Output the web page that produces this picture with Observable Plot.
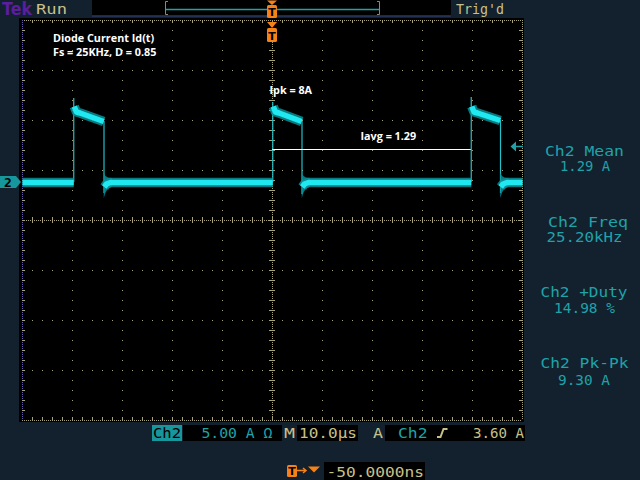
<!DOCTYPE html>
<html><head><meta charset="utf-8">
<script src="https://cdn.jsdelivr.net/npm/d3@7"></script>
<script src="https://cdn.jsdelivr.net/npm/@observablehq/plot@0.6"></script>
<style>
html,body{margin:0;padding:0;background:#13202e;}
#wrap{position:relative;width:640px;height:480px;overflow:hidden;background:#13202e;}
#wrap svg{position:absolute;left:0;top:0;}
#blk{position:absolute;left:19px;top:18px;width:505px;height:404px;background:#000;}
</style></head><body><div id="wrap"><div id="blk"></div></div>
<script>
// ---------- data (time in µs, current in A) ----------
const riseTimes  = [-39.75, 0.05, 39.75];
const fallTimes  = [-33.7, 5.9, 45.6];
const spikePeaks = [8.4, 8.0, 8.5];
const plateauEnds = [6.1, 6.1, 6.2];
const undershoots = [-1.1, -1.2, -1.1];

const traceSeg = ["b0","b0",
  "p1","p1","p1","p1",
  "b1","b1","b1","b1",
  "p2","p2","p2","p2",
  "b2","b2","b2","b2",
  "p3","p3","p3","p3",
  "b3","b3","b3","b3"];
const traceT = [-50, -39.75,
  -39.65, -39.2, -38.5, -33.75,
  -33.65, -33.2, -32.4, 0.05,
  0.15, 0.6, 1.3, 5.85,
  5.95, 6.4, 7.2, 39.75,
  39.85, 40.3, 41.0, 45.55,
  45.65, 46.1, 46.9, 50];
const traceI = [0, 0,
  7.6, 7.05, 6.95, 6.1,
  -0.45, -0.15, 0, 0,
  7.6, 7.05, 6.95, 6.1,
  -0.45, -0.15, 0, 0,
  7.6, 7.05, 6.95, 6.2,
  -0.45, -0.15, 0, 0];

// ringing envelope just after each turn-off
const ringT  = [-33.65, -33.3, -32.8, -32.0,  5.95, 6.3, 6.8, 7.6,  45.65, 46.0, 46.5, 47.3];
const ringLo = [-1.6, -1.05, -0.65, -0.45,  -1.6, -1.05, -0.65, -0.45,  -1.6, -1.05, -0.65, -0.45];
const ringHi = [0.9, 0.6, 0.45, 0.4,  0.9, 0.6, 0.45, 0.4,  0.9, 0.6, 0.45, 0.4];
const ringSeg = ["r1","r1","r1","r1","r2","r2","r2","r2","r3","r3","r3","r3"];

const iavgLevel = 3.3, iavgFrom = 0.05, iavgTo = 39.75;

const annotText = ["Diode Current Id(t)", "Fs = 25KHz, D = 0.85", "Ipk = 8A", "Iavg = 1.29"];
const annotT = [-43.9, -43.9, -0.6, 17.6];
const annotI = [14.05, 12.65, 8.9, 4.3];

const measLabels = ["Ch2 Mean", "Ch2 Freq", "Ch2 +Duty", "Ch2 Pk-Pk"];
const measValues = ["1.29 A", "25.20kHz", "14.98 %", "9.30 A"];

// graticule
const xDomain = [-50, 50], yDomain = [-23.8, 16.2];
const xDivs = [-40, -30, -20, -10, 10, 20, 30, 40];
const yDivs = [11.2, 6.2, 1.2, -8.8, -13.8, -18.8];
const xCenter = 0, yCenter = -3.8;
const minorT = d3.range(-24, 25).map(k => 2 * k);
const minorI = d3.range(1, 40).map(k => -23.8 + k);

// ---------- tables ----------
const trace = traceT.map((t, i) => ({t, i: traceI[i], seg: traceSeg[i]}));
const ring = ringT.map((t, k) => ({t, lo: ringLo[k], hi: ringHi[k], seg: ringSeg[k]}));
const pulses = riseTimes.map((t, k) => ({rise: t, fall: fallTimes[k], peak: spikePeaks[k], low: undershoots[k], end: plateauEnds[k]}));
const annots = annotText.map((s, k) => ({s, t: annotT[k], i: annotI[k]}));

const grat = "#a8a27a";
const plot = Plot.plot({
  width: 640, height: 480,
  marginLeft: 22, marginRight: 118, marginTop: 20, marginBottom: 60,
  x: {domain: xDomain, axis: null},
  y: {domain: yDomain, axis: null},
  style: {background: "transparent", overflow: "visible"},
  marks: [
    Plot.frame({fill: "black", stroke: "none"}),
    Plot.ruleX(xDivs, {stroke: grat, strokeDasharray: "1 9"}),
    Plot.ruleY(yDivs, {stroke: grat, strokeDasharray: "1 9"}),
    Plot.ruleX([xCenter], {stroke: grat, strokeDasharray: "1 1"}),
    Plot.ruleY([yCenter], {stroke: grat, strokeDasharray: "1 1"}),
    Plot.ruleX(minorT, {x: d => d, y1: yCenter - 0.3, y2: yCenter + 0.3, stroke: grat}),
    Plot.ruleY(minorI, {y: d => d, x1: xCenter - 0.6, x2: xCenter + 0.6, stroke: grat}),
    Plot.ruleY([yDomain[1]], {stroke: grat, strokeDasharray: "1 1"}),
    Plot.ruleY([yDomain[0]], {stroke: grat, strokeDasharray: "1 1"}),
    Plot.ruleX([xDomain[0]], {stroke: "#6b5aa8", strokeDasharray: "1 1"}),
    Plot.ruleX([xDomain[1]], {stroke: grat, strokeDasharray: "1 1"}),
    Plot.ruleX(minorT, {x: d => d, y1: yDomain[1], y2: yDomain[1] - 0.3, stroke: grat}),
    Plot.ruleX(minorT, {x: d => d, y1: yDomain[0], y2: yDomain[0] + 0.3, stroke: grat}),
    Plot.ruleY(minorI, {y: d => d, x1: xDomain[0], x2: xDomain[0] + 0.6, stroke: grat}),
    Plot.ruleY(minorI, {y: d => d, x1: xDomain[1], x2: xDomain[1] - 0.6, stroke: grat}),
    // edges
    Plot.ruleX(pulses, {x: "rise", y1: 0, y2: "peak", stroke: "#22c0c8", strokeWidth: 1.2}),
    Plot.ruleX(pulses, {x: "fall", y1: "end", y2: "low", stroke: "#22c0c8", strokeWidth: 1.2}),
    // ringing after turn-off
    Plot.areaY(ring, {x: "t", y1: "lo", y2: "hi", z: "seg", fill: "#0a8e97", fillOpacity: 0.85}),
    // noisy band
    Plot.line(trace, {x: "t", y: "i", z: "seg", stroke: "#0a8e97", strokeWidth: 9.5, strokeOpacity: 0.85, strokeLinecap: "butt"}),
    Plot.line(trace, {x: "t", y: "i", z: "seg", stroke: "#1fe8f0", strokeWidth: 5.5, strokeLinecap: "butt"}),
    // Iavg marker line
    Plot.ruleY([iavgLevel], {x1: iavgFrom, x2: iavgTo, stroke: "white", strokeWidth: 1}),
    Plot.text(annots, {x: "t", y: "i", text: "s", textAnchor: "start", lineAnchor: "bottom",
      fill: "white", fontFamily: "Open Sans", fontWeight: "bold", fontSize: 10.8})
  ]
});
document.getElementById("wrap").appendChild(plot);

// ---------- scope chrome ----------
const khaki = "#c8c088", teal = "#1ea3a9", orange = "#f58216";
const svg = d3.create("svg").attr("width", 640).attr("height", 480);
const mono = "DejaVu Sans Mono";
function txt(s, x, y, len, fill, size, family, weight) {
  svg.append("text").attr("x", x).attr("y", y).text(s)
    .attr("fill", fill).attr("font-size", size).attr("font-family", family || mono)
    .attr("font-weight", weight || "normal")
    .attr("textLength", len).attr("lengthAdjust", "spacingAndGlyphs");
}
// top bar
txt("Tek", 2, 15, 30, "#5a1e9e", 17, "DejaVu Sans", "bold");
txt("Run", 36, 13.5, 31, khaki, 14.5);
txt("Trig'd", 456, 13.5, 48, khaki, 14.5);
svg.append("rect").attr("x", 92).attr("y", 0).attr("width", 359).attr("height", 15.5).attr("fill", "#000");
svg.append("line").attr("x1", 92).attr("x2", 451).attr("y1", 16).attr("y2", 16).attr("stroke", "#34447a");
svg.append("path").attr("d", "M168,1.5H165.5V14.5H168 M377,1.5H379.5V14.5H377").attr("fill", "none").attr("stroke", "#8e8a6a").attr("stroke-width", 1);
svg.append("line").attr("x1", 166).attr("x2", 379).attr("y1", 9.5).attr("y2", 9.5).attr("stroke", teal).attr("stroke-width", 1.5);
// trigger position markers
function tMarker(cx, y0, boxY, boxH) {
  svg.append("path").attr("d", `M${cx-5},${y0}L${cx+5},${y0}L${cx},${boxY}Z`).attr("fill", orange);
  svg.append("rect").attr("x", cx - 5).attr("y", boxY).attr("width", 10).attr("height", boxH).attr("rx", 1.5).attr("fill", orange);
  svg.append("text").attr("x", cx).attr("y", boxY + boxH - 2.5).attr("text-anchor", "middle").text("T")
    .attr("fill", "#000").attr("font-size", 11).attr("font-family", "DejaVu Sans").attr("font-weight", "bold");
}
tMarker(272, 0.5, 5, 13);
tMarker(272, 22, 28, 14);
// channel 2 ground marker
svg.append("path").attr("d", "M0,176H16L21,182L16,188H0Z").attr("fill", "#17969c");
svg.append("text").attr("x", 8).attr("y", 187).attr("text-anchor", "middle").text("2")
  .attr("fill", "#000").attr("font-size", 13).attr("font-family", mono).attr("font-weight", "bold");
// trigger level arrow
svg.append("path").attr("d", "M510.5,146.5L516,141.5V151.5Z").attr("fill", teal);
svg.append("line").attr("x1", 514).attr("x2", 523).attr("y1", 146.5).attr("y2", 146.5).attr("stroke", teal).attr("stroke-width", 1.5);
// measurements
const measX = [[545, 79, 560, 50], [548, 80, 546.5, 76], [540.5, 87, 554, 61], [540.5, 88, 558, 52]];
const measY = [[156, 170.5], [227, 241.7], [297, 313.3], [368, 384.5]];
measLabels.forEach((s, k) => {
  txt(s, measX[k][0], measY[k][0], measX[k][1], teal, 14.5);
  txt(measValues[k], measX[k][2], measY[k][1], measX[k][3], teal, 14.5);
});
// bottom status bar
svg.append("rect").attr("x", 152).attr("y", 425).attr("width", 30).attr("height", 16).attr("fill", "#17969c");
svg.append("rect").attr("x", 183).attr("y", 425).attr("width", 99).attr("height", 16).attr("fill", "#000");
svg.append("rect").attr("x", 297).attr("y", 425).attr("width", 61).attr("height", 16).attr("fill", "#000");
svg.append("rect").attr("x", 385).attr("y", 425).attr("width", 140).attr("height", 16).attr("fill", "#000");
txt("Ch2", 153, 438, 28, "#000", 14.5);
txt("5.00 A \u03A9", 201.5, 438, 71, teal, 14.5);
txt("M", 284, 438, 11, khaki, 14.5);
txt("10.0\u00B5s", 299, 438, 58, khaki, 14.5);
txt("A", 373, 438, 10, khaki, 14.5);
txt("Ch2", 398, 438, 29.5, teal, 14.5);
svg.append("path").attr("d", "M437,437H440.5L443.5,429H447.5").attr("fill", "none").attr("stroke", khaki).attr("stroke-width", 2);
txt("3.60 A", 473, 438, 51, khaki, 14.5);
// bottom horizontal position
svg.append("rect").attr("x", 287).attr("y", 465).attr("width", 10).attr("height", 12).attr("rx", 1.5).attr("fill", orange);
svg.append("text").attr("x", 292).attr("y", 475).attr("text-anchor", "middle").text("T")
  .attr("fill", "#000").attr("font-size", 11).attr("font-family", "DejaVu Sans").attr("font-weight", "bold");
svg.append("path").attr("d", "M297,470.5H305M303,468L306,470.5L303,473").attr("fill", "none").attr("stroke", orange).attr("stroke-width", 1.5);
svg.append("path").attr("d", "M308,466.5H320L314,472.5Z").attr("fill", orange);
svg.append("rect").attr("x", 324).attr("y", 462).attr("width", 101).attr("height", 18).attr("fill", "#000");
txt("-50.0000ns", 326.5, 476.5, 97.5, khaki, 14.5);
document.getElementById("wrap").appendChild(svg.node());
</script></body></html>
